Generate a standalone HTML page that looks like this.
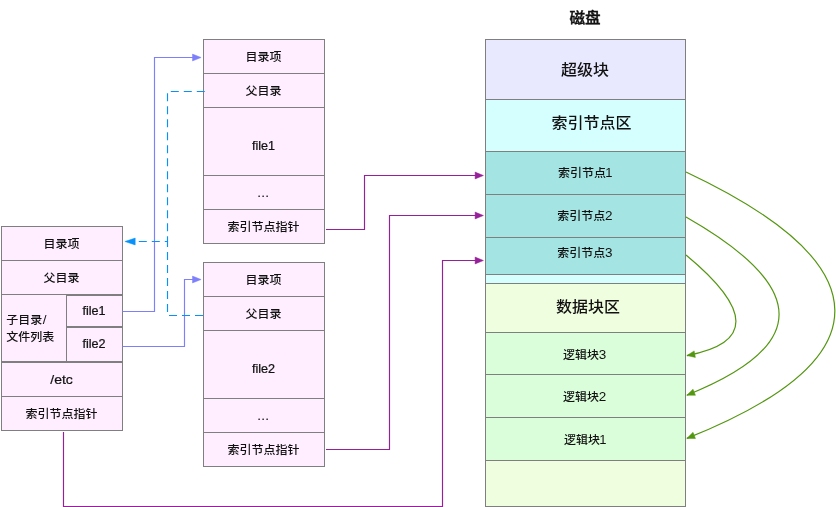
<!DOCTYPE html>
<html lang="zh-CN">
<head>
<meta charset="utf-8">
<title>磁盘</title>
<style>
html,body{margin:0;padding:0;background:#fff;}
body{width:836px;height:507px;overflow:hidden;}
svg{display:block;}
svg text{font-weight:500;font-family:"Liberation Sans","Noto Sans CJK SC",sans-serif;fill:#111111;}
</style>
</head>
<body>
<svg width="836" height="507" viewBox="0 0 836 507">
<rect x="0" y="0" width="836" height="507" fill="#ffffff"/>
<rect x="203.5" y="39.5" width="121" height="34" fill="#feeeff" stroke="#7f7f7f" stroke-width="1"/>
<rect x="203.5" y="73.5" width="121" height="34" fill="#feeeff" stroke="#7f7f7f" stroke-width="1"/>
<rect x="203.5" y="107.5" width="121" height="68" fill="#feeeff" stroke="#7f7f7f" stroke-width="1"/>
<rect x="203.5" y="175.5" width="121" height="34" fill="#feeeff" stroke="#7f7f7f" stroke-width="1"/>
<rect x="203.5" y="209.5" width="121" height="34" fill="#feeeff" stroke="#7f7f7f" stroke-width="1"/>
<rect x="203.5" y="262.5" width="121" height="34" fill="#feeeff" stroke="#7f7f7f" stroke-width="1"/>
<rect x="203.5" y="296.5" width="121" height="34" fill="#feeeff" stroke="#7f7f7f" stroke-width="1"/>
<rect x="203.5" y="330.5" width="121" height="68" fill="#feeeff" stroke="#7f7f7f" stroke-width="1"/>
<rect x="203.5" y="398.5" width="121" height="34" fill="#feeeff" stroke="#7f7f7f" stroke-width="1"/>
<rect x="203.5" y="432.5" width="121" height="34" fill="#feeeff" stroke="#7f7f7f" stroke-width="1"/>
<rect x="1.5" y="226.5" width="121" height="34" fill="#feeeff" stroke="#7f7f7f" stroke-width="1"/>
<rect x="1.5" y="260.5" width="121" height="34" fill="#feeeff" stroke="#7f7f7f" stroke-width="1"/>
<rect x="1.5" y="294.5" width="121" height="68" fill="#feeeff" stroke="#7f7f7f" stroke-width="1"/>
<rect x="1.5" y="294.5" width="65" height="67" fill="#feeeff" stroke="#7f7f7f" stroke-width="1"/>
<rect x="66.5" y="295.5" width="56" height="31" fill="#feeeff" stroke="#7f7f7f" stroke-width="1"/>
<rect x="66.5" y="327.5" width="56" height="34" fill="#feeeff" stroke="#7f7f7f" stroke-width="1"/>
<rect x="1.5" y="362.5" width="121" height="34" fill="#feeeff" stroke="#7f7f7f" stroke-width="1"/>
<rect x="1.5" y="396.5" width="121" height="34" fill="#feeeff" stroke="#7f7f7f" stroke-width="1"/>
<rect x="485.5" y="283.5" width="200" height="223" fill="#f0fee0" stroke="#7f7f7f" stroke-width="1"/>
<rect x="485.5" y="99.5" width="200" height="184" fill="#d4fffe" stroke="#7f7f7f" stroke-width="1"/>
<rect x="485.5" y="39.5" width="200" height="60" fill="#e8e8fe" stroke="#7f7f7f" stroke-width="1"/>
<rect x="485.5" y="151.5" width="200" height="43" fill="#a4e5e3" stroke="#7f7f7f" stroke-width="1"/>
<rect x="485.5" y="194.5" width="200" height="43" fill="#a4e5e3" stroke="#7f7f7f" stroke-width="1"/>
<rect x="485.5" y="237.5" width="200" height="37" fill="#a4e5e3" stroke="#7f7f7f" stroke-width="1"/>
<rect x="485.5" y="332.5" width="200" height="42" fill="#dafdda" stroke="#7f7f7f" stroke-width="1"/>
<rect x="485.5" y="374.5" width="200" height="43" fill="#dafdda" stroke="#7f7f7f" stroke-width="1"/>
<rect x="485.5" y="417.5" width="200" height="43" fill="#dafdda" stroke="#7f7f7f" stroke-width="1"/>
<path d="M122.5 311.5 H154.5 V57.5 H193" fill="none" stroke="#7e80fb" stroke-width="1.15"/>
<path d="M201.1 57.5 L192.50 54.10 L192.50 60.90 Z" fill="#7e80fb" stroke="#7e80fb" stroke-width="0.5" stroke-linejoin="round"/>
<path d="M122.5 346.5 H184.5 V279.5 H193" fill="none" stroke="#7e80fb" stroke-width="1.15"/>
<path d="M201.1 279.5 L192.50 276.10 L192.50 282.90 Z" fill="#7e80fb" stroke="#7e80fb" stroke-width="0.5" stroke-linejoin="round"/>
<path d="M204.8 91.5 H167.5 V241.5 H134" fill="none" stroke="#0892f9" stroke-width="1.15" stroke-dasharray="8 5"/>
<path d="M203 315.5 H167.5 V241.5" fill="none" stroke="#0892f9" stroke-width="1.15" stroke-dasharray="8 5"/>
<path d="M124.9 241.5 L135.20 238.10 L135.20 244.90 Z" fill="#0892f9" stroke="#0892f9" stroke-width="0.5" stroke-linejoin="round"/>
<path d="M326 229.5 H364.5 V175.5 H476" fill="none" stroke="#962099" stroke-width="1.15"/>
<path d="M483.4 175.5 L475.10 172.10 L475.10 178.90 Z" fill="#962099" stroke="#962099" stroke-width="0.5" stroke-linejoin="round"/>
<path d="M326 449.5 H389.5 V215.5 H476" fill="none" stroke="#962099" stroke-width="1.15"/>
<path d="M483.4 215.5 L475.10 212.10 L475.10 218.90 Z" fill="#962099" stroke="#962099" stroke-width="0.5" stroke-linejoin="round"/>
<path d="M63.5 432 V506.5 H442.5 V260.5 H476" fill="none" stroke="#962099" stroke-width="1.15"/>
<path d="M483.4 260.5 L475.10 257.10 L475.10 263.90 Z" fill="#962099" stroke="#962099" stroke-width="0.5" stroke-linejoin="round"/>
<path d="M686 172.0 C883 264.9 885.6 359.1 686.8 438.4" fill="none" stroke="#539610" stroke-width="1.2"/>
<path d="M686.80 438.40 L693.01 432.37 L695.45 438.50 Z" fill="#539610" stroke="#539610" stroke-width="0.5" stroke-linejoin="round"/>
<path d="M686 217.0 C810.7 288.1 809.2 346.2 686.8 395.2" fill="none" stroke="#539610" stroke-width="1.2"/>
<path d="M686.80 395.20 L693.00 389.16 L695.45 395.29 Z" fill="#539610" stroke="#539610" stroke-width="0.5" stroke-linejoin="round"/>
<path d="M686 255 Q785.4 337.3 686.9 355.6" fill="none" stroke="#539610" stroke-width="1.2"/>
<path d="M686.90 355.60 L694.16 350.89 L695.37 357.38 Z" fill="#539610" stroke="#539610" stroke-width="0.5" stroke-linejoin="round"/>
<g style="will-change:transform">
<text transform="translate(263.5 61.4) scale(1 0.95)" font-size="12" text-anchor="middle">目录项</text>
<text transform="translate(263.5 95.4) scale(1 0.95)" font-size="12" text-anchor="middle">父目录</text>
<text transform="translate(263.5 149.6) scale(1 0.96)" font-size="12.6" text-anchor="middle" stroke="#111111" stroke-width="0.25">file1</text>
<text transform="translate(263.5 197.4) scale(1 0.96)" font-size="12" text-anchor="middle" letter-spacing="0.7" stroke="#111111" stroke-width="0.25">...</text>
<text transform="translate(263.5 231.4) scale(1 0.95)" font-size="12" text-anchor="middle">索引节点指针</text>
<text transform="translate(263.5 284.4) scale(1 0.95)" font-size="12" text-anchor="middle">目录项</text>
<text transform="translate(263.5 318.4) scale(1 0.95)" font-size="12" text-anchor="middle">父目录</text>
<text transform="translate(263.5 372.6) scale(1 0.96)" font-size="12.6" text-anchor="middle" stroke="#111111" stroke-width="0.25">file2</text>
<text transform="translate(263.5 420.4) scale(1 0.96)" font-size="12" text-anchor="middle" letter-spacing="0.7" stroke="#111111" stroke-width="0.25">...</text>
<text transform="translate(263.5 454.4) scale(1 0.95)" font-size="12" text-anchor="middle">索引节点指针</text>
<text transform="translate(61.5 248.4) scale(1 0.95)" font-size="12" text-anchor="middle">目录项</text>
<text transform="translate(61.5 282.4) scale(1 0.95)" font-size="12" text-anchor="middle">父目录</text>
<text transform="translate(6.3 323.7) scale(1 0.95)" font-size="12" text-anchor="start">子目录<tspan dx="0.6" font-size="13.5">/</tspan></text>
<text transform="translate(6.3 340.9) scale(1 0.95)" font-size="12" text-anchor="start">文件列表</text>
<text transform="translate(94 314.9) scale(1 0.96)" font-size="12.6" text-anchor="middle" stroke="#111111" stroke-width="0.25">file1</text>
<text transform="translate(94 348) scale(1 0.96)" font-size="12.6" text-anchor="middle" stroke="#111111" stroke-width="0.25">file2</text>
<text transform="translate(61.6 384.2) scale(1 0.96)" font-size="14" text-anchor="middle" stroke="#111111" stroke-width="0.25">/etc</text>
<text transform="translate(61.5 418.4) scale(1 0.95)" font-size="12" text-anchor="middle">索引节点指针</text>
<text transform="translate(585 23.4) scale(1 0.95)" font-size="15.6" text-anchor="middle" stroke="#111111" stroke-width="0.4">磁盘</text>
<text transform="translate(585 75.4) scale(1 0.95)" font-size="16" text-anchor="middle">超级块</text>
<text transform="translate(591.5 127.9) scale(1 0.95)" font-size="16" text-anchor="middle">索引节点区</text>
<text transform="translate(587.9 311.9) scale(1 0.95)" font-size="16" text-anchor="middle">数据块区</text>
<text transform="translate(585.2 176.8) scale(1 0.95)" font-size="12" text-anchor="middle">索引节点<tspan dx="-0.7" font-size="13">1</tspan></text>
<text transform="translate(584.9 219.8) scale(1 0.95)" font-size="12" text-anchor="middle">索引节点<tspan dx="-0.3" font-size="13.5">2</tspan></text>
<text transform="translate(584.9 256.8) scale(1 0.95)" font-size="12" text-anchor="middle">索引节点<tspan dx="-0.3" font-size="13.5">3</tspan></text>
<text transform="translate(584.7 358.6) scale(1 0.95)" font-size="12" text-anchor="middle">逻辑块<tspan dx="-0.3" font-size="13.5">3</tspan></text>
<text transform="translate(584.7 400.9) scale(1 0.95)" font-size="12" text-anchor="middle">逻辑块<tspan dx="-0.3" font-size="13.5">2</tspan></text>
<text transform="translate(585.3 443.7) scale(1 0.95)" font-size="12" text-anchor="middle">逻辑块<tspan dx="-0.7" font-size="13">1</tspan></text>
</g>
</svg>
</body>
</html>
